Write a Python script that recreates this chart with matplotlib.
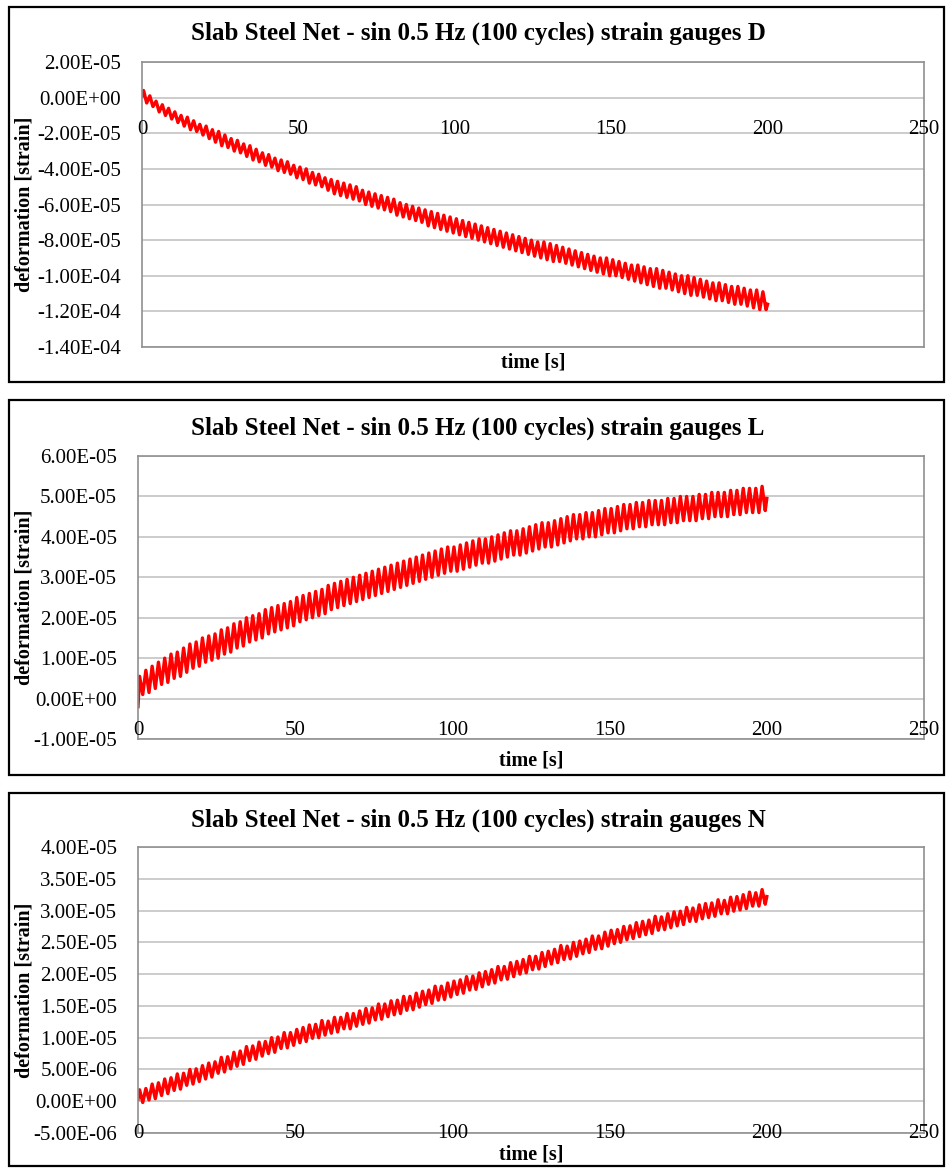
import matplotlib
matplotlib.use("Agg")
import matplotlib.pyplot as plt
import numpy as np
from matplotlib.patches import Rectangle
from matplotlib.ticker import FixedLocator, FuncFormatter

plt.rcParams['font.family'] = ['Liberation Serif', 'DejaVu Serif']

# peaks / troughs of each 2 s cycle (0.5 Hz, 100 cycles), in micro-strain
d_start, d_end = 1, -116
d_peaks = [4, 1, -2, -4, -6, -8, -10, -11, -13, -15,
           -16, -18, -19, -21, -23, -24, -26, -27, -29, -31,
           -32, -34, -35, -36, -38, -39, -40, -42, -43, -45,
           -46, -47, -48, -49, -50, -52, -53, -54, -55, -56,
           -57, -59, -60, -61, -62, -63, -64, -65, -66, -67,
           -68, -69, -70, -71, -72, -73, -74, -75, -76, -77,
           -78, -79, -80, -81, -81, -82, -83, -84, -85, -86,
           -87, -88, -89, -90, -90, -91, -92, -93, -94, -94,
           -95, -96, -96, -97, -98, -99, -100, -100, -101, -102,
           -103, -104, -104, -105, -106, -106, -107, -108, -108, -109]
d_troughs = [-3, -5, -8, -10, -12, -14, -16, -18, -19, -21,
             -23, -25, -27, -28, -30, -31, -33, -35, -36, -38,
             -39, -41, -42, -43, -45, -46, -48, -49, -50, -52,
             -54, -55, -56, -57, -58, -60, -61, -62, -63, -64,
             -66, -67, -68, -69, -70, -72, -73, -74, -75, -76,
             -77, -78, -79, -80, -81, -82, -83, -84, -85, -86,
             -87, -88, -89, -90, -91, -92, -92, -93, -94, -95,
             -96, -97, -98, -99, -100, -100, -101, -102, -103, -104,
             -105, -106, -107, -107, -108, -109, -110, -111, -111, -112,
             -113, -114, -114, -115, -116, -116, -117, -118, -119, -119]

l_start, l_end = -2, 49.5
l_peaks = [5.5, 7, 8, 9, 10, 11, 11.5, 12.5, 13.5, 14,
           15, 15.5, 16, 17, 17.5, 18.5, 19, 20, 20.5, 21,
           22, 22.5, 23, 23.5, 24, 25, 25.5, 26, 26.5, 27,
           28, 28.5, 29, 29.5, 30, 30.5, 31, 31.5, 32, 32.5,
           33, 33.5, 34, 34.5, 35, 35.5, 36, 36.5, 37, 37.5,
           37.5, 38, 38.5, 39, 39.5, 39.5, 40, 40.5, 41, 41.5,
           41.5, 42, 42.5, 43, 43.5, 43.5, 44, 44.5, 45, 45.5,
           45.5, 46, 46, 46.5, 47, 47, 47.5, 48, 48, 48.5,
           48.5, 49, 49, 49, 49.5, 49.5, 50, 50, 50, 50.5,
           50.5, 51, 51, 51, 51.5, 51.5, 52, 52, 52, 52.5]
l_troughs = [1, 1.5, 2.5, 3.5, 4, 5, 5.5, 6.5, 7.5, 8,
             9, 9.5, 10, 11, 11.5, 12.5, 13, 14, 14.5, 15,
             16, 16.5, 17, 17.5, 18, 19, 19.5, 20, 20.5, 21,
             22, 22.5, 23, 23.5, 24, 24.5, 25, 25.5, 26, 26.5,
             27, 27.5, 28, 28.5, 29, 29.5, 30, 30.5, 31, 31.5,
             31.5, 32, 32.5, 33, 33.5, 33.5, 34, 34.5, 35, 35.5,
             35.5, 36, 36.5, 37, 37.5, 37.5, 38, 38.5, 39, 39.5,
             39.5, 40, 40, 40.5, 41, 41, 41.5, 42, 42, 42.5,
             42.5, 43, 43, 43, 43.5, 43.5, 44, 44, 44, 44.5,
             44.5, 45, 45, 45, 45.5, 45.5, 46, 46, 46, 46.5]

n_start, n_end = 0.3, 32.2
n_peaks = [1.8, 2.0, 2.7, 2.9, 3.5, 3.7, 4.3, 4.4, 5.0, 5.1,
           5.6, 6.0, 6.2, 6.9, 7.0, 7.7, 7.9, 8.6, 8.7, 9.3,
           9.4, 10.0, 10.1, 10.8, 10.8, 11.3, 11.6, 12.0, 12.1, 12.7,
           12.6, 13.2, 13.2, 13.8, 13.8, 14.2, 14.6, 14.7, 15.3, 15.3,
           15.8, 15.9, 16.5, 16.5, 17.0, 17.3, 17.5, 18.1, 18.1, 18.6,
           18.9, 19.1, 19.6, 19.7, 20.2, 20.4, 20.7, 21.2, 21.2, 21.8,
           22.0, 22.3, 22.8, 22.8, 23.4, 23.6, 23.9, 24.5, 24.4, 25.0,
           25.2, 25.5, 26.0, 26.0, 26.6, 26.9, 27.0, 27.5, 27.6, 28.1,
           28.3, 28.5, 29.1, 29.0, 29.5, 29.8, 29.9, 30.5, 30.4, 30.9,
           31.1, 31.2, 31.7, 31.6, 32.1, 32.2, 32.5, 32.9, 32.8, 33.3]
n_troughs = [-0.2, 0.2, 0.4, 0.9, 1.2, 1.7, 1.9, 2.5, 2.7, 3.1,
             3.5, 3.8, 4.4, 4.6, 5.1, 5.5, 5.8, 6.4, 6.6, 7.1,
             7.5, 7.7, 8.3, 8.4, 8.8, 9.2, 9.4, 9.9, 10.0, 10.4,
             10.7, 10.9, 11.4, 11.4, 11.8, 12.1, 12.3, 12.8, 12.9, 13.3,
             13.6, 13.8, 14.3, 14.4, 14.8, 15.2, 15.4, 15.9, 16.0, 16.4,
             16.8, 17.0, 17.5, 17.6, 18.0, 18.4, 18.6, 19.1, 19.2, 19.6,
             20.0, 20.2, 20.7, 20.8, 21.2, 21.6, 21.8, 22.3, 22.4, 22.8,
             23.2, 23.4, 23.9, 24.0, 24.4, 24.8, 25.0, 25.4, 25.6, 25.9,
             26.2, 26.4, 26.9, 27.0, 27.3, 27.6, 27.8, 28.3, 28.3, 28.7,
             28.9, 29.1, 29.5, 29.5, 29.9, 30.1, 30.3, 30.7, 30.7, 31.0]

xticks = [0, 50, 100, 150, 200, 250]
yticks_d = [-1.4e-4, -1.2e-4, -1.0e-4, -8e-5, -6e-5, -4e-5, -2e-5, 0.0, 2e-5]
yticks_l = [-1e-5, 0.0, 1e-5, 2e-5, 3e-5, 4e-5, 5e-5, 6e-5]
yticks_n = [-5e-6, 0.0, 5e-6, 1e-5, 1.5e-5, 2e-5, 2.5e-5, 3e-5, 3.5e-5, 4e-5]


def build_series(start, peaks, troughs, end):
    t, v = [0.0], [start]
    for k in range(len(peaks)):
        t += [2 * k + 0.5, 2 * k + 1.5]
        v += [peaks[k], troughs[k]]
    t.append(200.0)
    v.append(end)
    return np.array(t), np.array(v) * 1e-6


W, H = 946, 1168
fig = plt.figure(figsize=(W / 100, H / 100), dpi=100)

panels = [
    dict(name='D', data=(d_start, d_peaks, d_troughs, d_end), yticks=yticks_d,
         box=(9, 7, 944, 382), plot=(142, 62, 924, 347), title_y=33, xlab_y=363),
    dict(name='L', data=(l_start, l_peaks, l_troughs, l_end), yticks=yticks_l,
         box=(9, 400, 944, 775), plot=(138, 456, 924, 739), title_y=428, xlab_y=760),
    dict(name='N', data=(n_start, n_peaks, n_troughs, n_end), yticks=yticks_n,
         box=(9, 793, 944, 1166), plot=(138, 847, 924, 1133), title_y=820, xlab_y=1155),
]

for p in panels:
    bl, bt, br, bb = p['box']
    fig.patches.append(Rectangle((bl / W, 1 - bb / H), (br - bl) / W, (bb - bt) / H,
                                 transform=fig.transFigure, fill=False,
                                 ec='black', lw=1.6))
    l, t, r, b = p['plot']
    ax = fig.add_axes([l / W, 1 - b / H, (r - l) / W, (b - t) / H])
    x, y = build_series(*p['data'])
    ax.plot(x, y, color='#ff0000', lw=2.4, solid_joinstyle='round')

    yt = p['yticks']
    ax.set_xlim(0, 250)
    ax.set_ylim(yt[0], yt[-1])
    ax.yaxis.set_major_locator(FixedLocator(yt))
    ax.yaxis.set_major_formatter(FuncFormatter(lambda v, pos: f"{v:.2E}"))
    ax.tick_params(axis='y', length=0, pad=15, labelsize=15)
    ax.set_xticks([])
    ax.grid(axis='y', color='#c8c8c8', lw=1.3)
    ax.set_axisbelow(True)
    for s in ax.spines.values():
        s.set_color('#909090')
        s.set_linewidth(1.2)

    # x tick labels sit a little below the zero line, as in the original
    for xv in xticks:
        ax.annotate(str(xv), xy=(xv, 0), xycoords='data', xytext=(0, -23),
                    textcoords='offset points', ha='center', va='center',
                    fontsize=15, annotation_clip=False)

    fig.text(478 / W, 1 - p['title_y'] / H,
             f"Slab Steel Net - sin 0.5 Hz (100 cycles) strain gauges {p['name']}",
             ha='center', va='center', fontsize=18, fontweight='bold')
    fig.text((l + r) / 2 / W, 1 - p['xlab_y'] / H, "time [s]",
             ha='center', va='center', fontsize=14.5, fontweight='bold')
    fig.text(24 / W, 1 - (t + b) / 2 / H, "deformation [strain]", rotation=90,
             ha='center', va='center', fontsize=14.5, fontweight='bold')

fig.savefig("out.png", dpi=100)
